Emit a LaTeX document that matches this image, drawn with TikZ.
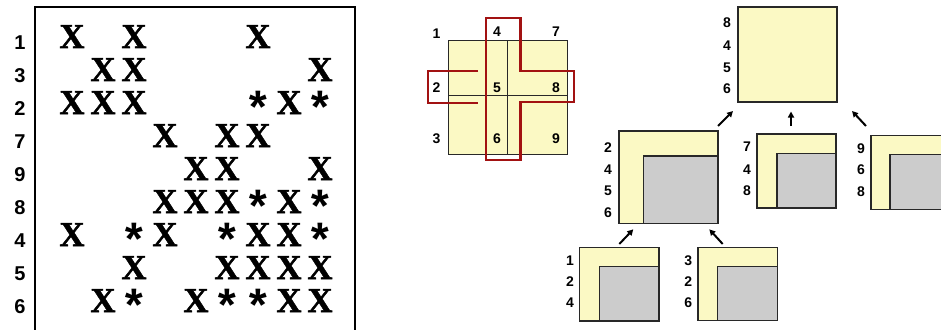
\documentclass[tikz,border=0pt]{standalone}
\usepackage{fontspec}
\setmainfont{Liberation Sans}
\newfontfamily\crossfont{Liberation Serif}[BoldFeatures={FakeBold=1.5}]
\newfontfamily\starfont{Liberation Mono}
\usepackage{tikz}
\usetikzlibrary{arrows.meta}
\definecolor{paleyellow}{RGB}{251,249,196}
\definecolor{boxgray}{RGB}{204,204,204}
\definecolor{darkred}{RGB}{162,18,18}
\definecolor{boxline}{RGB}{40,40,40}

\begin{document}
\begin{tikzpicture}[x=1pt, y=-1pt]
\tikzstyle{rowlab} = [font=\fontsize{20}{20}\selectfont\bfseries, inner sep=0pt, anchor=base]
\tikzstyle{cross} = [font=\fontsize{35}{35}\selectfont\crossfont\bfseries, inner sep=0pt, anchor=base]
\tikzstyle{star} = [font=\fontsize{46}{46}\selectfont\starfont\bfseries, inner sep=0pt, anchor=base, yshift=-10pt]
\tikzstyle{lab} = [font=\fontsize{14}{14}\selectfont\bfseries, inner sep=0pt]
\tikzstyle{ybox} = [rectangle, draw=boxline, fill=paleyellow, line width=1.2pt, inner sep=0pt, outer sep=0pt, anchor=north west]
\tikzstyle{gbox} = [rectangle, draw=boxline, fill=boxgray, line width=1.2pt, inner sep=0pt, outer sep=0pt, anchor=south east]
\tikzstyle{arrow} = [line width=2pt, -{Triangle[length=6pt,width=6pt]}]
\tikzstyle{cut} = [draw=darkred, line width=2.5pt]

\useasboundingbox (0,0) rectangle (941,329);

\node[draw, line width=1.2pt, minimum width=320pt, minimum height=340pt, inner sep=0pt, outer sep=0pt, anchor=north west] (frame) at (35,7) {};
\foreach \lab [count=\i] in {1,3,2,7,9,8,4,5,6}
  \node[rowlab] (row\i) at (20,{49+33*(\i-1)}) {\lab};
\foreach \r/\c in {1/1,1/3,1/7, 2/2,2/3,2/9, 3/1,3/2,3/3,3/8, 4/4,4/6,4/7,
    5/5,5/6,5/9, 6/4,6/5,6/6,6/8, 7/1,7/4,7/7,7/8, 8/3,8/6,8/7,8/8,8/9,
    9/2,9/5,9/8,9/9}
  \node[cross] (x\r-\c) at ({72+31*(\c-1)},{48+33*(\r-1)}) {X};
\foreach \r/\c in {3/7,3/9, 6/7,6/9, 7/3,7/6,7/9, 9/3,9/6,9/7}
  \node[star] (s\r-\c) at ({72+31*(\c-1)},{48+33*(\r-1)}) {*};

\node[ybox, line width=1pt, minimum width=119pt, minimum height=113pt] (grid) at (448,41) {};
\draw[boxline, line width=0.8pt] (grid.north) -- (grid.south);
\draw[boxline, line width=0.8pt] (448,95) -- (567,95);
\draw[cut] (486,18) -- (520.5,18) -- (520.5,71) -- (574,71) -- (574,102) -- (520.5,102) -- (520.5,160) -- (486,160) -- cycle;
\draw[cut] (478,71) -- (428,71) -- (428,103) -- (478,103);
\node[lab] (g1) at (436.5,34) {1};
\node[lab] (g4) at (497,32) {4};
\node[lab] (g7) at (556,32) {7};
\node[lab] (g2) at (436.5,87.5) {2};
\node[lab] (g5) at (497,87.5) {5};
\node[lab] (g8) at (556,87.5) {8};
\node[lab] (g3) at (436.5,139) {3};
\node[lab] (g6) at (497,139) {6};
\node[lab] (g9) at (556,139) {9};

\node[ybox, minimum width=99pt, minimum height=95pt] (top) at (738,7) {};
\foreach \lab/\y in {8/23,4/46,5/68,6/89}
  \node[lab] (top\lab) at (727,\y) {\lab};

\node[ybox, minimum width=99pt, minimum height=92.5pt] (lmid) at (619,131) {};
\node[gbox, minimum width=74.5pt, minimum height=67.5pt] (lmidg) at (lmid.south east) {};
\foreach \lab/\y in {2/147.7,4/169.3,5/191,6/212.7}
  \node[lab] (lmid\lab) at (608,\y) {\lab};

\node[ybox, minimum width=79pt, minimum height=74pt] (mid) at (757,134) {};
\node[gbox, minimum width=59pt, minimum height=54.7pt] (midg) at (mid.south east) {};
\foreach \lab/\y in {7/146.7,4/169.3,8/190.7}
  \node[lab] (mid\lab) at (747,\y) {\lab};

\node[ybox, minimum width=80pt, minimum height=73.6pt] (rgt) at (871,135.7) {};
\node[gbox, minimum width=61pt, minimum height=55pt] (rgtg) at (rgt.south east) {};
\foreach \lab/\y in {9/148.3,6/170,8/191.7}
  \node[lab] (rgt\lab) at (861,\y) {\lab};

\node[ybox, minimum width=79.7pt, minimum height=73.7pt] (bl) at (579.3,247.3) {};
\node[gbox, minimum width=59.7pt, minimum height=54.3pt] (blg) at (bl.south east) {};
\foreach \lab/\y in {1/260.7,2/281.7,4/302.7}
  \node[lab] (bl\lab) at (570,\y) {\lab};

\node[ybox, minimum width=79.3pt, minimum height=73.4pt] (br) at (698,247.3) {};
\node[gbox, minimum width=60pt, minimum height=54pt] (brg) at (br.south east) {};
\foreach \lab/\y in {3/261,2/282,6/303}
  \node[lab] (br\lab) at (688.3,\y) {\lab};

\coordinate (lmid-out) at (718,126);
\coordinate (top-in1) at (733,111);
\coordinate (mid-out) at (791,126);
\coordinate (top-in2) at (791,111.5);
\coordinate (rgt-out) at (866,126);
\coordinate (top-in3) at (852,111);
\coordinate (bl-out) at (619.3,244);
\coordinate (lmid-in1) at (633.3,229.3);
\coordinate (br-out) at (722.7,244);
\coordinate (lmid-in2) at (709.3,229.3);
\draw[arrow] (lmid-out) -- (top-in1);
\draw[arrow] (mid-out) -- (top-in2);
\draw[arrow] (rgt-out) -- (top-in3);
\draw[arrow] (bl-out) -- (lmid-in1);
\draw[arrow] (br-out) -- (lmid-in2);
\end{tikzpicture}
\end{document}
